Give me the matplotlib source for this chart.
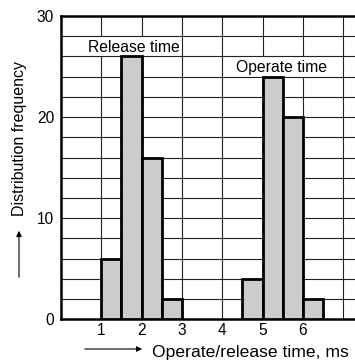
import matplotlib.pyplot as plt
from matplotlib.patches import FancyArrowPatch, Rectangle

plt.rcParams["font.family"] = ["Liberation Sans", "DejaVu Sans"]

# release / operate time histograms (bin start, ms) and counts
release_bins = [1.0, 1.5, 2.0, 2.5]
release_counts = [6, 26, 16, 2]
operate_bins = [4.5, 5.0, 5.5, 6.0]
operate_counts = [4, 24, 20, 2]
bin_width = 0.5

x_ticks = [1, 2, 3, 4, 5, 6]
y_ticks = [0, 10, 20, 30]

fig = plt.figure(figsize=(3.55, 3.6), dpi=100)
ax = fig.add_axes([61 / 355, 40.7 / 360, 294 / 355, 303.3 / 360])

# grid: vertical lines under the label boxes, horizontal ones over them
for xv in range(1, 8):
    ax.axvline(xv, color="#222222", linewidth=0.8, zorder=1)
for yv in range(2, 30, 2):
    ax.axhline(yv, color="#222222", linewidth=0.8, zorder=2)

# white boxes behind the labels
ax.add_patch(Rectangle((0, 26), 2.96, 2, facecolor="white", edgecolor="none", zorder=1.5))
ax.add_patch(Rectangle((4.04, 24), 2.92, 2, facecolor="white", edgecolor="none", zorder=1.5))

ax.bar(release_bins, release_counts, width=bin_width, align="edge",
       color="#cccccc", edgecolor="black", linewidth=2, zorder=3)
ax.bar(operate_bins, operate_counts, width=bin_width, align="edge",
       color="#cccccc", edgecolor="black", linewidth=2, zorder=3)

ax.text(1.8, 26.4, "Release time", ha="center", va="baseline", fontsize=11.3, zorder=4)
ax.text(5.47, 24.5, "Operate time", ha="center", va="baseline", fontsize=11.3, zorder=4)

ax.set_xlim(0, 7.29)
ax.set_ylim(0, 30)
ax.set_xticks(x_ticks)
ax.set_yticks(y_ticks)
ax.tick_params(length=0, labelsize=11.2)
ax.tick_params(axis="x", pad=3)
ax.tick_params(axis="y", pad=5)

ax.spines["right"].set_visible(False)
for s in ["left", "top", "bottom"]:
    ax.spines[s].set_linewidth(1.8)

# axis labels with arrows
fig.text(19.5 / 355, 1 - 139 / 360, "Distribution frequency", rotation=90,
         ha="center", va="center", fontsize=11.5)
fig.text(152.5 / 355, 1 - 357 / 360, "Operate/release time, ms",
         ha="left", va="baseline", fontsize=12.6)
fig.add_artist(FancyArrowPatch(
    (19 / 355, 1 - 280 / 360), (19 / 355, 1 - 228 / 360),
    transform=fig.transFigure, arrowstyle="-|>", mutation_scale=8,
    linewidth=0.8, color="black"))
fig.add_artist(FancyArrowPatch(
    (82 / 355, 1 - 349 / 360), (145 / 355, 1 - 349 / 360),
    transform=fig.transFigure, arrowstyle="-|>", mutation_scale=8,
    linewidth=0.8, color="black"))

plt.savefig("out.png", dpi=100)
